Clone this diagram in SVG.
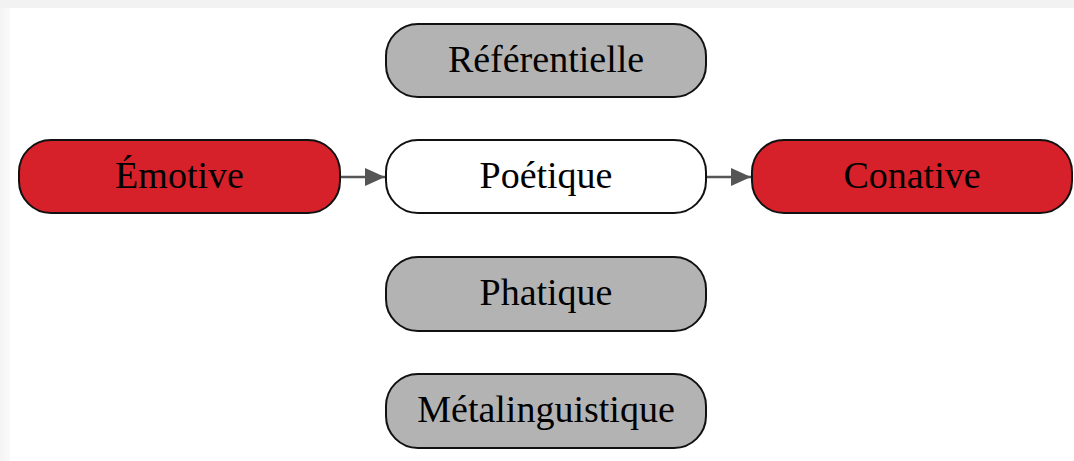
<svg xmlns="http://www.w3.org/2000/svg" width="1074" height="461" viewBox="0 0 1074 461">
<style>
.n rect{stroke:#111;stroke-width:2}
.red{fill:#d6212a}
.grey{fill:#b3b3b3}
.white{fill:#ffffff}
.n text{font-family:"Liberation Serif","Times New Roman",serif;font-size:38px;fill:#000;text-anchor:middle}
.e{stroke:#555;stroke-width:2.5;fill:none}
</style>
<defs>
<linearGradient id="lg" x1="0" x2="1" y1="0" y2="0"><stop offset="0" stop-color="#f4f4f4"/><stop offset="1" stop-color="#fafafa"/></linearGradient>
<marker id="ah" viewBox="0 0 20 18" refX="20" refY="9" markerWidth="20" markerHeight="18" markerUnits="userSpaceOnUse" orient="auto"><path d="M0,0 L20,9 L0,18 Z" fill="#555"/></marker>
</defs>
<rect x="0" y="0" width="1074" height="461" fill="#f2f2f2"/>
<rect x="0" y="8" width="10" height="453" fill="url(#lg)"/>
<rect x="10" y="8" width="1064" height="453" fill="#ffffff"/>
<g id="edges">
<line class="e" x1="341" y1="177" x2="385" y2="177" marker-end="url(#ah)"/>
<line class="e" x1="707" y1="177" x2="751" y2="177" marker-end="url(#ah)"/>
</g>
<g id="referentielle" class="n"><rect class="grey" x="386" y="24" width="320" height="73" rx="32"/><text x="546" y="72">Référentielle</text></g>
<g id="emotive" class="n"><rect class="red" x="19" y="140" width="321" height="73" rx="32"/><text x="179.5" y="188">Émotive</text></g>
<g id="poetique" class="n"><rect class="white" x="386" y="140" width="320" height="73" rx="32"/><text x="546" y="188">Poétique</text></g>
<g id="conative" class="n"><rect class="red" x="752" y="140" width="320" height="73" rx="32"/><text x="912" y="188">Conative</text></g>
<g id="phatique" class="n"><rect class="grey" x="386" y="257" width="320" height="74" rx="32"/><text x="546" y="305">Phatique</text></g>
<g id="metalinguistique" class="n"><rect class="grey" x="386" y="374" width="320" height="74" rx="32"/><text x="546" y="422">Métalinguistique</text></g>
</svg>
